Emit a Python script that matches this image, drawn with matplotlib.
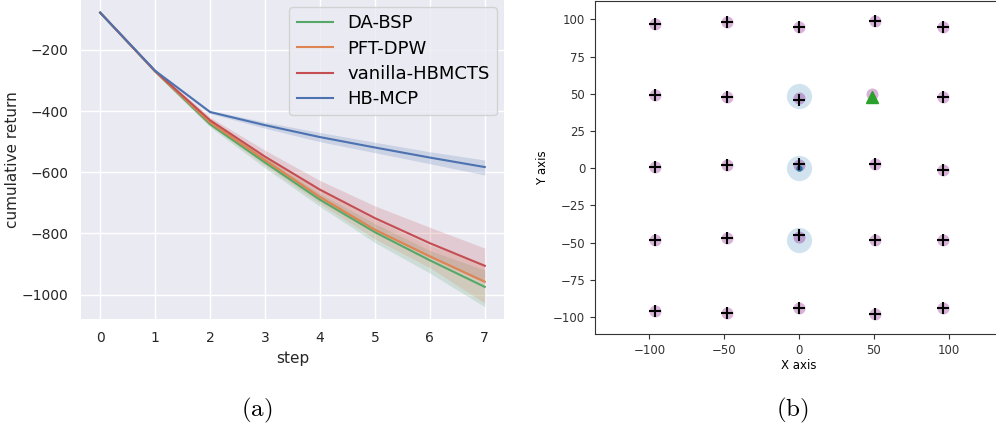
import numpy as np
import matplotlib
matplotlib.use("Agg")
import matplotlib.pyplot as plt

# (a) cumulative return per step
steps = [0, 1, 2, 3, 4, 5, 6, 7]
names = ["DA-BSP", "PFT-DPW", "vanilla-HBMCTS", "HB-MCP"]
colors = ["#55A868", "#DD8452", "#C44E52", "#4C72B0"]
mean_da = [-78, -270, -443, -568, -690, -796, -888, -975]
low_da = [-78, -276, -452, -586, -712, -830, -930, -1040]
up_da = [-78, -266, -434, -552, -670, -768, -856, -920]
mean_pft = [-78, -270, -437, -560, -681, -788, -875, -958]
low_pft = [-78, -275, -447, -578, -702, -818, -912, -1028]
up_pft = [-78, -266, -428, -545, -660, -755, -840, -900]
mean_van = [-78, -269, -430, -549, -657, -750, -832, -906]
low_van = [-78, -273, -440, -572, -688, -790, -880, -962]
up_van = [-78, -265, -420, -528, -627, -710, -780, -848]
mean_hb = [-78, -268, -403, -446, -485, -519, -552, -583]
low_hb = [-78, -271, -408, -456, -500, -536, -572, -609]
up_hb = [-78, -265, -398, -436, -470, -502, -533, -560]

# (b) map: landmarks, estimates, beliefs
lm_x = [-96, -48, 0, 51, 96, -96, -48, 0, 49, 96, -96, -48, 0, 51, 96,
        -96, -48, 0, 51, 96, -96, -48, 0, 51, 96]
lm_y = [97, 98, 95, 99, 95, 49, 48, 47, 50, 48, 1, 2, 2, 3, -1,
        -48, -47, -46, -48, -48, -96, -97, -94, -98, -94]
est_x = [-96, -48, 0, 51, 96, -96, -48, 0, 96, -96, -48, 0, 51, 96,
         -96, -48, 0, 51, 96, -96, -48, 0, 51, 96]
est_y = [97, 98, 95, 99, 95, 49, 48, 46, 48, 1, 2, 3, 3, -1,
         -48, -47, -45, -48, -48, -96, -97, -94, -98, -94]
belief_x = [0, 0, 0]
belief_y = [48.5, 0, -48]
robot_x = [0]
robot_y = [0]
goal_x = [49]
goal_y = [48]

plt.rcParams["mathtext.fontset"] = "cm"
fig = plt.figure(figsize=(9.96, 4.32), dpi=100)

ax1 = fig.add_axes([0.0813, 0.2616, 0.4247, 0.7384])
ax1.set_facecolor("#EAEAF2")
for s in ax1.spines.values():
    s.set_visible(False)
ax1.grid(True, color="white", linewidth=1.0)
ax1.set_axisbelow(True)
series = [(mean_da, low_da, up_da), (mean_pft, low_pft, up_pft),
          (mean_van, low_van, up_van), (mean_hb, low_hb, up_hb)]
for (m, lo, hi), name, c in zip(series, names, colors):
    ax1.fill_between(steps, lo, hi, color=c, alpha=0.2, linewidth=0)
    ax1.plot(steps, m, color=c, linewidth=1.5, label=name)
ax1.set_xlim(-0.35, 7.35)
ax1.set_ylim(-1080, -36.6)
ax1.set_xticks(steps)
ax1.set_yticks([-200, -400, -600, -800, -1000])
ax1.tick_params(length=0, pad=9, labelsize=10, colors="#262626")
ax1.set_xlabel("step", fontsize=11, color="#262626", labelpad=4)
ax1.set_ylabel("cumulative return", fontsize=11, color="#262626")
ax1.yaxis.set_label_coords(-0.144, 0.5)
leg = ax1.legend(loc="upper right", fontsize=13, frameon=True,
                 facecolor="#EAEAF2", edgecolor="#CCCCCC", framealpha=0.8,
                 borderaxespad=0.4, labelspacing=0.4)

ax2 = fig.add_axes([0.5974, 0.2269, 0.4096, 0.7708])
ax2.scatter(lm_x, lm_y, s=75, color="purple", alpha=0.3, linewidths=0, zorder=2)
ax2.scatter(belief_x, belief_y, s=330, color="#1f77b4", alpha=0.2, linewidths=0, zorder=1)
ax2.scatter(robot_x, robot_y, s=12, color="#1f6f9f", zorder=3)
ax2.plot(est_x, est_y, "+", color="black", markersize=9, mew=1.5, zorder=4)
ax2.plot(goal_x, goal_y, "^", color="#2ca02c", markersize=8, zorder=5)
ax2.set_xlim(-136.3, 136.3)
ax2.set_ylim(-111.4, 112.3)
ax2.set_xticks([-100, -50, 0, 50, 100])
ax2.set_yticks([100, 75, 50, 25, 0, -25, -50, -75, -100])
ax2.tick_params(labelsize=8.5, colors="#333333")
ax2.set_xlabel("X axis", fontsize=8.5, labelpad=2)
ax2.set_ylabel("Y axis", fontsize=8.5, labelpad=3)
for s in ax2.spines.values():
    s.set_color("#333333")

fig.text(0.258, 0.05, r"$\mathrm{(a)}$", fontsize=18, ha="center", va="center")
fig.text(0.796, 0.05, r"$\mathrm{(b)}$", fontsize=18, ha="center", va="center")

fig.savefig("out.png", dpi=100)
